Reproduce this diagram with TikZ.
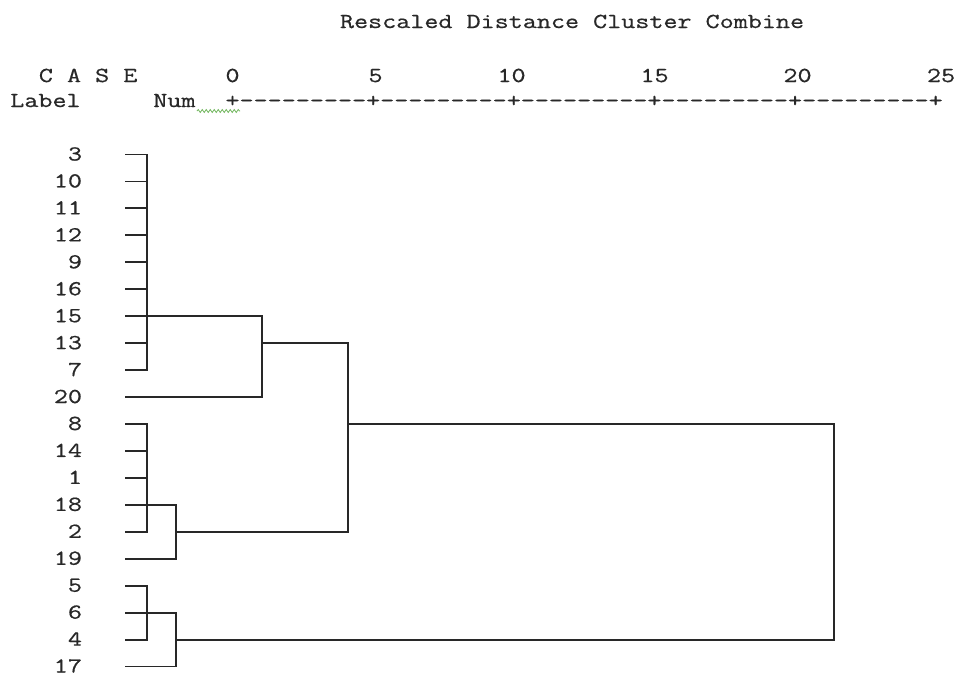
\documentclass[tikz,border=0pt]{standalone}
\usepackage{fontspec}
\setmonofont{Latin Modern Mono}[FakeStretch=1.28, FakeBold=0.7]
\usetikzlibrary{decorations.pathmorphing}
\definecolor{ink}{RGB}{40,40,40}
\definecolor{squig}{RGB}{110,180,90}
\tikzset{
  txt/.style={inner sep=0pt, outer sep=0pt, text=ink, font=\ttfamily\fontsize{16}{16}\selectfont},
  hdr/.style={txt, anchor=base west},
  lbl/.style={txt, anchor=base east},
  tree/.style={draw=ink, line width=1.4pt, line cap=rect},
}
\begin{document}
\begin{tikzpicture}[x=0.75pt, y=-0.75pt]
\useasboundingbox (0,0) rectangle (957,675);
% header
\node[hdr] (title) at (340,28) {Rescaled Distance Cluster Combine};
\node[hdr] (case) at (38.9,82) {C A S E};
\node[hdr] (t0) at (225.5,82) {0};
\node[hdr] (t5) at (368.5,82) {5};
\node[hdr] (t10) at (497.5,82) {10};
\node[hdr] (t15) at (640.5,82) {15};
\node[hdr] (t20) at (783.5,82) {20};
\node[hdr] (t25) at (927,82) {25};
\node[hdr] (label) at (10.3,107) {Label};
\node[hdr] (num) at (153.3,107) {Num};
\node[hdr] (axis) at (225.5,107) {+---------+---------+---------+---------+---------+};
\draw[squig, line width=0.6pt, decorate, decoration={snake, amplitude=1.1pt, segment length=3pt}] (197,111) -- (240,111);
% rows
\foreach \lab [count=\i from 0] in {3,10,11,12,9,16,15,13,7,20,8,14,1,18,2,19,5,6,4,17} {
  \pgfmathsetmacro{\yy}{154.5+26.95*\i}
  \node[lbl] (n\i) at (82,\yy+6) {\lab};
  \coordinate (s\i) at (126,\yy);
}
% cluster A (rows 0-8 + 20)
\foreach \i in {0,...,8} { \draw[tree] (s\i) -- (s\i -| 146.7,0); }
\coordinate (a1) at (s6 -| 146.7,0);
\coordinate (a2) at (s6 -| 261.7,0);
\coordinate (a3) at (s7 -| 261.7,0);
\coordinate (m1) at (s7 -| 348,0);
\draw[tree] (s0 -| 146.7,0) -- (s8 -| 146.7,0);
\draw[tree] (a1) -- (a2);
\draw[tree] (s9) -- (s9 -| 261.7,0) -- (a2);
\draw[tree] (a3) -- (m1);
% cluster B
\foreach \i in {10,...,14} { \draw[tree] (s\i) -- (s\i -| 146.7,0); }
\draw[tree] (s10 -| 146.7,0) -- (s14 -| 146.7,0);
\coordinate (b1) at (s13 -| 176,0);
\coordinate (b2) at (s14 -| 176,0);
\coordinate (m2) at (s14 -| 348,0);
\draw[tree] (s13 -| 146.7,0) -- (b1);
\draw[tree] (s15) -- (s15 -| 176,0) -- (b1);
\draw[tree] (b2) -- (m2);
\draw[tree] (m1) -- (m2);
\coordinate (m3) at (s10 -| 348,0);
\coordinate (f1) at (s10 -| 834,0);
\draw[tree] (m3) -- (f1);
% cluster C
\foreach \i in {16,...,18} { \draw[tree] (s\i) -- (s\i -| 146.7,0); }
\draw[tree] (s16 -| 146.7,0) -- (s18 -| 146.7,0);
\coordinate (c1) at (s17 -| 176,0);
\coordinate (c2) at (s18 -| 176,0);
\coordinate (f2) at (s18 -| 834,0);
\draw[tree] (s17 -| 146.7,0) -- (c1);
\draw[tree] (s19) -- (s19 -| 176,0) -- (c1);
\draw[tree] (c2) -- (f2);
\draw[tree] (f1) -- (f2);
\end{tikzpicture}
\end{document}
